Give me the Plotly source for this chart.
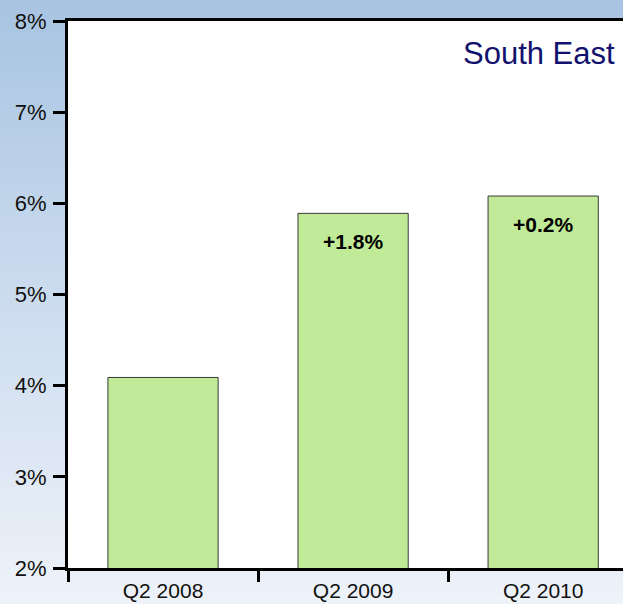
import plotly.graph_objects as go

categories = ["Q2 2008", "Q2 2009", "Q2 2010"]
values = [4.09, 5.89, 6.08]
change_labels = ["", "+1.8%", "+0.2%"]
y_ticks = [2, 3, 4, 5, 6, 7, 8]
y_tick_labels = ["2%", "3%", "4%", "5%", "6%", "7%", "8%"]
title_text = "South East"

W, H = 623, 604
ML, MR, MT, MB = 68, 0, 21, 36
PW, PH = W - ML - MR, H - MT - MB

fig = go.Figure()
fig.add_trace(go.Bar(
    x=categories, y=values, width=0.58,
    marker=dict(color="#c1ea98", line=dict(color="#3a3a3a", width=1)),
    hoverinfo="skip",
))

# background gradient
shapes = []
N = 150
top = (168, 196, 225)
mid = (204, 220, 239)
bot = (238, 242, 249)
x0p = -ML / PW
y_bot = -MB / PH
y_top = 1 + MT / PH
for i in range(N):
    t = i / (N - 1)
    if t < 0.5:
        s = t / 0.5
        c = [round(top[k] + (mid[k] - top[k]) * s) for k in range(3)]
    else:
        s = (t - 0.5) / 0.5
        c = [round(mid[k] + (bot[k] - mid[k]) * s) for k in range(3)]
    ya = y_top - (y_top - y_bot) * i / N
    yb = y_top - (y_top - y_bot) * (i + 1) / N
    if i == N - 1:
        yb = y_bot - 0.05
    shapes.append(dict(type="rect", xref="paper", yref="paper", x0=x0p, x1=1.02,
                       y0=yb - 0.002, y1=ya, line=dict(width=0),
                       fillcolor=f"rgb({c[0]},{c[1]},{c[2]})", layer="below"))
shapes.append(dict(type="rect", xref="paper", yref="paper", x0=0, x1=1.02, y0=0, y1=1,
                   line=dict(width=0), fillcolor="white", layer="below"))

annotations = []
for cat, val, lab in zip(categories, values, change_labels):
    if lab:
        annotations.append(dict(x=cat, y=val, xref="x", yref="y", text=f"<b>{lab}</b>",
                                showarrow=False, yanchor="middle", yshift=-28,
                                font=dict(family="Liberation Sans, Arial", size=21, color="#000000")))
annotations.append(dict(x=1, y=1 - 32 / PH, xref="paper", yref="paper", text=title_text,
                        showarrow=False, xanchor="right", yanchor="middle", xshift=-6,
                        font=dict(family="Liberation Sans, Arial", size=31, color="#12126e")))

fig.update_layout(
    width=W, height=H,
    margin=dict(l=ML, r=MR, t=MT, b=MB, pad=0),
    paper_bgcolor="rgb(200,215,235)",
    plot_bgcolor="rgba(0,0,0,0)",
    showlegend=False,
    shapes=shapes,
    annotations=annotations,
    font=dict(family="Liberation Sans, Arial", size=21, color="#111111"),
    xaxis=dict(
        type="category", categoryorder="array", categoryarray=categories,
        range=[-0.5, 2.42], showgrid=False, zeroline=False, automargin=False,
        showline=True, linewidth=3, linecolor="black", mirror=True,
        ticks="outside", tickson="boundaries", ticklen=11, tickwidth=3, tickcolor="black",
        ticklabelstandoff=2, tickfont=dict(size=21), fixedrange=True,
    ),
    yaxis=dict(
        range=[2, 8], tickmode="array", tickvals=y_ticks, ticktext=y_tick_labels,
        showgrid=False, zeroline=False, automargin=False,
        showline=True, linewidth=3, linecolor="black",
        ticks="outside", ticklen=12, tickwidth=3, tickcolor="black",
        ticklabelstandoff=2, tickfont=dict(size=22), fixedrange=True,
    ),
)

fig.write_html(
    "out.html",
    config={"displayModeBar": False},
    post_script="document.body.style.margin='0';document.body.style.overflow='hidden';",
)
